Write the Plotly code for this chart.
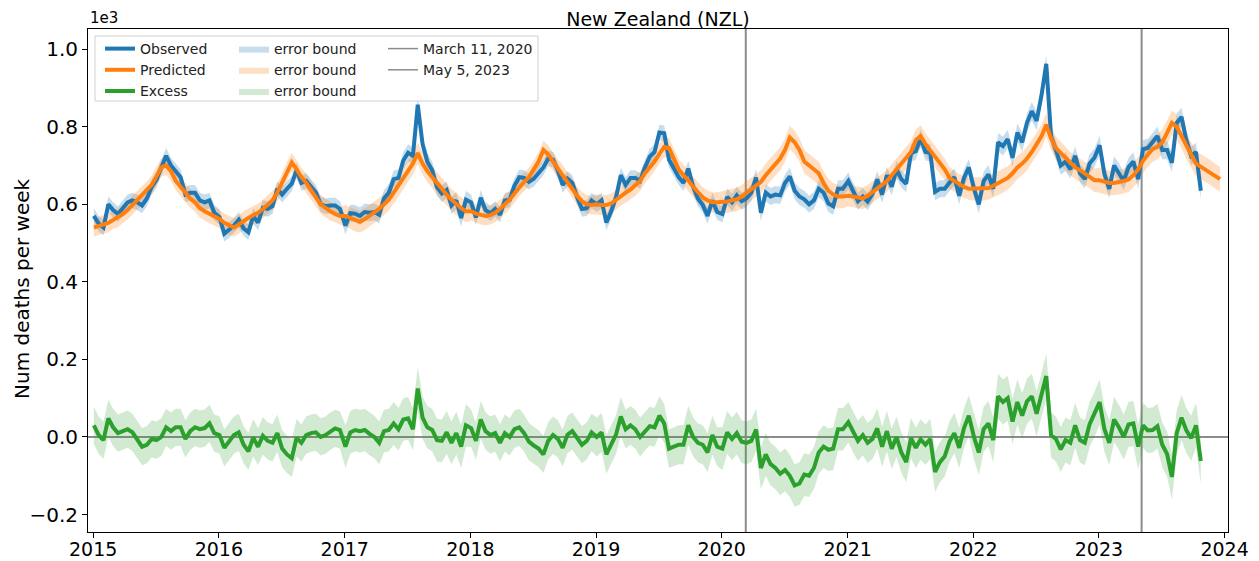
import pandas as pd
import numpy as np
import plotly.graph_objects as go

# ---------------- data (deaths per week, biweekly samples) ----------------
years = [2015, 2016, 2017, 2018, 2019, 2020, 2021, 2022, 2023]

observed = [
    570, 550, 540, 600, 585, 575, 590, 605, 610, 605, 597, 615, 645, 664, 695, 725, 700, 685, 670, 625, 630, 630, 610, 605, 610, 578,  # 2015
    567, 524, 533, 545, 560, 538, 528, 570, 553, 591, 588, 595, 640, 625, 640, 653, 688, 655, 660, 645, 630, 600, 595, 597, 597, 588,  # 2016
    545, 577, 576, 570, 580, 578, 580, 573, 615, 630, 665, 668, 713, 733, 725, 857, 755, 710, 688, 644, 628, 637, 597, 610, 565, 612,  # 2017
    605, 566, 617, 585, 577, 588, 573, 610, 612, 648, 670, 668, 658, 666, 680, 695, 718, 715, 687, 650, 666, 655, 619, 588, 590, 610,  # 2018
    600, 610, 553, 582, 618, 675, 650, 668, 668, 660, 695, 723, 735, 785, 783, 715, 693, 670, 655, 692, 645, 615, 598, 570, 610, 580,  # 2019
    575, 619, 605, 623, 608, 615, 630, 669, 578, 630, 620, 625, 623, 655, 672, 635, 620, 613, 600, 610, 640, 630, 602, 595, 640, 640,  # 2020
    660, 632, 608, 620, 607, 627, 664, 625, 675, 645, 690, 665, 653, 732, 737, 770, 735, 733, 632, 640, 640, 656, 670, 622, 668, 695,  # 2021
    640, 600, 660, 677, 640, 760, 750, 768, 720, 785, 760, 810, 840, 815, 880, 962, 775, 740, 700, 710, 690, 725, 680, 665, 705, 720,  # 2022
    752, 678, 640, 700, 682, 660, 696, 710, 665, 742, 745, 760, 776, 740, 740, 707, 810, 825, 765, 725, 735, 635,                      # 2023
]

predicted = [
    540, 545, 548, 552, 560, 565, 575, 585, 598, 610, 622, 635, 650, 672, 695, 700, 685, 660, 645, 630, 615, 605, 590, 582, 575, 568,  # 2015
    562, 552, 545, 540, 548, 558, 565, 572, 578, 588, 598, 610, 630, 655, 685, 708, 690, 670, 655, 635, 618, 600, 590, 582, 575, 570,  # 2016
    570, 565, 558, 555, 562, 570, 580, 588, 600, 612, 630, 648, 668, 685, 705, 732, 705, 685, 670, 652, 638, 625, 612, 600, 590, 582,  # 2017
    582, 576, 572, 570, 572, 578, 588, 600, 612, 628, 645, 658, 670, 688, 710, 740, 728, 710, 692, 678, 660, 640, 622, 608, 600, 598,  # 2018
    600, 598, 598, 602, 612, 622, 630, 638, 648, 660, 680, 695, 710, 730, 748, 745, 718, 690, 675, 662, 645, 630, 618, 610, 605, 605,  # 2019
    605, 607, 610, 613, 620, 630, 640, 650, 658, 675, 690, 705, 718, 740, 772, 760, 740, 710, 700, 690, 680, 655, 635, 625, 620, 620,  # 2020
    622, 620, 618, 615, 622, 632, 642, 650, 660, 675, 690, 705, 718, 735, 765, 776, 755, 738, 722, 705, 690, 668, 660, 650, 645, 640,  # 2021
    640, 640, 640, 642, 648, 655, 660, 668, 680, 695, 705, 718, 735, 755, 775, 805, 770, 745, 732, 718, 705, 695, 688, 680, 672, 662,  # 2022
    662, 658, 655, 655, 657, 660, 664, 675, 690, 712, 728, 742, 748, 760, 784, 810, 800, 775, 748, 728, 705, 697, 690, 682, 672, 665,  # 2023
]

# half-width of the error bounds, per year
observed_err_by_year = [20, 20, 22, 20, 20, 22, 22, 24, 24]
predicted_err_by_year = [24, 24, 28, 24, 26, 30, 28, 30, 32]
excess_err_by_year = [48, 48, 55, 48, 50, 55, 52, 58, 58]

event_dates = ["2020-03-11", "2023-05-05"]
event_labels = ["March 11, 2020", "May 5, 2023"]

tick_years = [2015, 2016, 2017, 2018, 2019, 2020, 2021, 2022, 2023, 2024]
y_ticks = [-0.2, 0.0, 0.2, 0.4, 0.6, 0.8, 1.0]
y_ticktext = ["\u22120.2", "0.0", "0.2", "0.4", "0.6", "0.8", "1.0"]

# ---------------- build series ----------------
dates = []
for yr in years:
    dates += list(pd.date_range(f"{yr}-01-03", periods=26, freq="14D"))
n_obs = len(observed)
n_pred = len(predicted)
d_obs = dates[:n_obs]
d_pred = dates[:n_pred]

obs = np.array(observed) / 1000.0
pred = np.array(predicted) / 1000.0
exc = obs - pred[:n_obs]

obs_err = np.repeat(observed_err_by_year, 26)[:n_obs] / 1000.0
pred_err = np.repeat(predicted_err_by_year, 26)[:n_pred] / 1000.0
exc_err = np.repeat(excess_err_by_year, 26)[:n_obs] / 1000.0

BLUE, ORANGE, GREEN = "#1f77b4", "#ff7f0e", "#2ca02c"
FONT = "DejaVu Sans"

# page geometry (the html body adds an 8px offset)
OFF = 8
PAGE_W, PAGE_H = 1259, 561
PL, PR, PT, PB = 88, 1228, 29, 532          # plot area in page pixels
W, H = PAGE_W - OFF, PAGE_H - OFF
ML, MT = PL - OFF, PT - OFF
MR, MB = W - (PR - OFF), H - (PB - OFF)
PW, PH = PR - PL, PB - PT


def px(xp):
    return (xp - PL) / PW


def py(yp):
    return (PB - yp) / PH


fig = go.Figure()


def band(x, y, e, color, legend):
    xs = list(x) + list(x)[::-1]
    ys = list(y + e) + list((y - e)[::-1])
    return go.Scatter(x=xs, y=ys, fill="toself", fillcolor=color,
                      line=dict(width=0), mode="lines", name="error bound",
                      legend=legend, hoverinfo="skip")


fig.add_trace(band(d_obs, obs, obs_err, "rgba(31,119,180,0.25)", "legend2"))
fig.add_trace(band(d_pred, pred, pred_err, "rgba(255,127,14,0.25)", "legend2"))
fig.add_trace(band(d_obs, exc, exc_err, "rgba(44,160,44,0.22)", "legend2"))

fig.add_trace(go.Scatter(x=d_obs, y=obs, mode="lines", name="Observed",
                         line=dict(color=BLUE, width=4), legend="legend"))
fig.add_trace(go.Scatter(x=d_pred, y=pred, mode="lines", name="Predicted",
                         line=dict(color=ORANGE, width=4), legend="legend"))
fig.add_trace(go.Scatter(x=d_obs, y=exc, mode="lines", name="Excess",
                         line=dict(color=GREEN, width=4), legend="legend"))

for lab in event_labels:
    fig.add_trace(go.Scatter(x=[None], y=[None], mode="lines", name=lab,
                             line=dict(color="#8c8c8c", width=1.5), legend="legend3"))

shapes = []
for d in event_dates:
    shapes.append(dict(type="line", xref="x", yref="paper", x0=d, x1=d, y0=0, y1=1,
                       line=dict(color="#8c8c8c", width=2), layer="below"))
shapes.append(dict(type="line", xref="paper", yref="y", x0=0, x1=1, y0=0, y1=0,
                   line=dict(color="#8c8c8c", width=2), layer="below"))
# legend frame
shapes.append(dict(type="rect", xref="paper", yref="paper",
                   x0=px(95), x1=px(538), y0=py(101), y1=py(36),
                   line=dict(color="#d0d0d0", width=1),
                   fillcolor="rgba(255,255,255,0.8)", layer="above"))

leg_common = dict(bgcolor="rgba(0,0,0,0)", borderwidth=0, xanchor="left", yanchor="top",
                  font=dict(family=FONT, size=14, color="#222"), itemwidth=30,
                  tracegroupgap=0)
leg_y = py(33)

fig.update_layout(
    width=W, height=H,
    margin=dict(l=ML, r=MR, t=MT, b=MB, autoexpand=False),
    plot_bgcolor="white", paper_bgcolor="white",
    font=dict(family=FONT, color="black"),
    title=dict(text="New Zealand (NZL)", x=((PL + PR) / 2 - OFF) / W, xanchor="center",
               y=1 - (19 - OFF) / H, yanchor="middle",
               font=dict(family=FONT, size=19, color="black")),
    shapes=shapes,
    legend=dict(x=px(100), y=leg_y, **leg_common),
    legend2=dict(x=px(234), y=leg_y, **leg_common),
    legend3=dict(x=px(383), y=leg_y, **leg_common),
    xaxis=dict(type="date", range=["2014-12-17", "2024-01-11"], automargin=False,
               tickvals=[f"{y}-01-01" for y in tick_years],
               ticktext=[str(y) for y in tick_years],
               ticks="outside", ticklen=5, tickcolor="black",
               ticklabelstandoff=-5,
               showline=True, mirror=True, linecolor="black", linewidth=1,
               showgrid=False, zeroline=False,
               tickfont=dict(family=FONT, size=19, color="black")),
    yaxis=dict(range=[-0.245, 1.052], tickvals=y_ticks, ticktext=y_ticktext,
               automargin=False,
               ticks="outside", ticklen=5, tickcolor="black",
               showline=True, mirror=True, linecolor="black", linewidth=1,
               showgrid=False, zeroline=False,
               tickfont=dict(family=FONT, size=20, color="black")),
    annotations=[
        dict(text="1e3", xref="paper", yref="paper", x=0, y=1,
             xanchor="left", yanchor="bottom", showarrow=False,
             font=dict(family=FONT, size=15, color="black")),
        dict(text="Num deaths per week", xref="paper", yref="paper",
             x=px(22), y=py(289), textangle=-90,
             xanchor="center", yanchor="middle", showarrow=False,
             font=dict(family=FONT, size=20, color="black")),
    ],
    showlegend=True,
)

fig.write_html("out.html")
